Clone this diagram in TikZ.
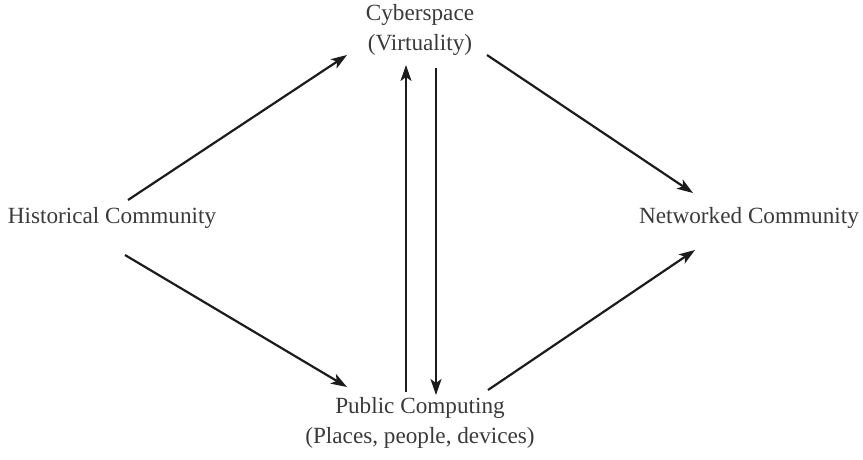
\documentclass[tikz,border=0pt]{standalone}
\usepackage{fontspec}
\setmainfont{Liberation Serif}
\usetikzlibrary{arrows.meta}
\definecolor{txt}{HTML}{3A3A3A}
\definecolor{ln}{HTML}{1C1C1C}
\begin{document}
\begin{tikzpicture}[x=1pt,y=-1pt,
  lbl/.style={text=txt,font=\fontsize{23.2}{29.5}\selectfont,align=center,inner sep=0pt},
  conn/.style={draw=ln,line width=2.2pt,-{Stealth[length=16pt,width=11pt,inset=4pt]}}]
\useasboundingbox (0,0) rectangle (863,459);
\node[lbl] (hist) at (112,218) {Historical Community};
\node[lbl] (net) at (749,218) {Networked Community};
\node[lbl] (cyb) at (420,30) {Cyberspace\\(Virtuality)};
\node[lbl] (pub) at (420,423) {Public Computing\\(Places, people, devices)};
\draw[conn] ([shift={(16,-18)}]hist.center) -- ([shift={(-73,25)}]cyb.center);
\draw[conn] ([shift={(13,37)}]hist.center) -- ([shift={(-73,-36)}]pub.center);
\draw[conn] ([shift={(-14,-31)}]pub.center) -- ([shift={(-14,35)}]cyb.center);
\draw[conn] ([shift={(16,38)}]cyb.center) -- ([shift={(16,-28)}]pub.center);
\draw[conn] ([shift={(67,25)}]cyb.center) -- ([shift={(-56,-25)}]net.center);
\draw[conn] ([shift={(68,-33)}]pub.center) -- ([shift={(-54,32)}]net.center);
\end{tikzpicture}
\end{document}
